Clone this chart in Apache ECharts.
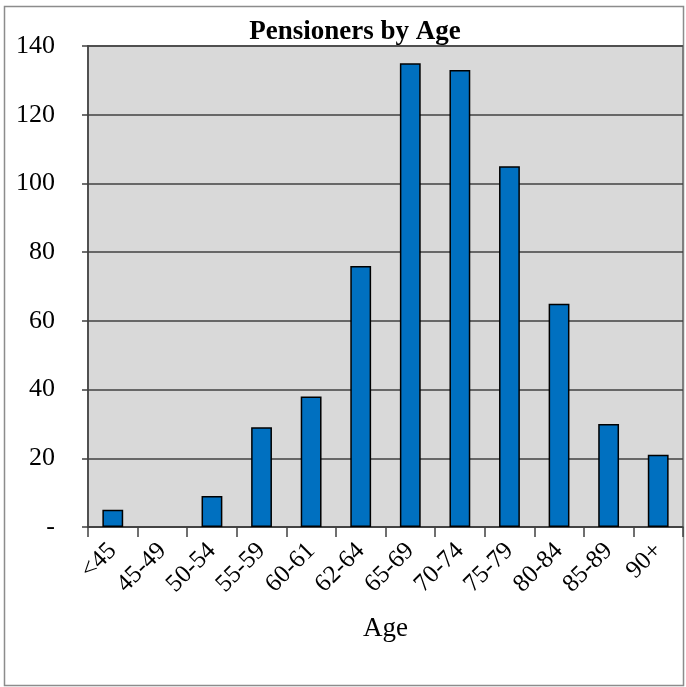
<!DOCTYPE html>
<html><head><meta charset="utf-8">
<script src="https://cdn.jsdelivr.net/npm/echarts@6/dist/echarts.min.js"></script>
<style>html,body{margin:0;padding:0;background:#fff}#c{width:686px;height:687px}</style>
</head><body><div id="c"></div>
<script>
const categories = ['<45','45-49','50-54','55-59','60-61','62-64','65-69','70-74','75-79','80-84','85-89','90+'];
const pensioners = [5, 0, 9, 29, 38, 76, 135, 133, 105, 65, 30, 21];
const yTicks = {min: 0, max: 140, interval: 20};

const chart = echarts.init(document.getElementById('c'), null, {renderer: 'canvas'});
const serif = 'Liberation Serif';
chart.setOption({
  backgroundColor: '#ffffff',
  animation: false,
  title: {
    text: 'Pensioners by Age',
    left: 350, top: 14, textAlign: 'center',
    textStyle: {fontFamily: serif, fontWeight: 'bold', fontSize: 27, color: '#000'}
  },
  graphic: [{
    type: 'rect', shape: {x: 4.5, y: 6.5, width: 679, height: 679},
    style: {fill: 'none', stroke: '#8c8c8c', lineWidth: 1.5}, z: -1
  }],
  grid: {
    left: 88, top: 46, right: 3, bottom: 160,
    show: true, backgroundColor: '#D9D9D9', borderColor: '#7f7f7f', borderWidth: 2
  },
  xAxis: {
    type: 'category', data: categories,
    name: 'Age', nameLocation: 'middle', nameGap: 88,
    nameTextStyle: {fontFamily: serif, fontSize: 27, color: '#000'},
    axisLine: {show: true, lineStyle: {color: '#404040', width: 1.5}},
    axisTick: {show: true, alignWithLabel: false, length: 10, lineStyle: {color: '#404040', width: 1.5}},
    axisLabel: {rotate: 45, fontFamily: serif, fontSize: 25, color: '#000', margin: 20, interval: 0}
  },
  yAxis: {
    type: 'value', min: yTicks.min, max: yTicks.max, interval: yTicks.interval,
    axisLine: {show: true, lineStyle: {color: '#404040', width: 1.5}},
    axisTick: {show: true, length: 6, lineStyle: {color: '#404040', width: 1.5}},
    axisLabel: {fontFamily: serif, fontSize: 26, color: '#000', margin: 33,
      formatter: v => v === 0 ? '-' : String(v)},
    splitLine: {show: true, lineStyle: {color: '#404040', width: 1.5}}
  },
  series: [{
    type: 'bar', barWidth: '42%',
    data: pensioners.map(v => v === 0 ? {value: v, itemStyle: {borderWidth: 0}} : v),
    itemStyle: {color: '#0070C0', borderColor: '#000', borderWidth: 1.5}
  }]
});
</script></body></html>
